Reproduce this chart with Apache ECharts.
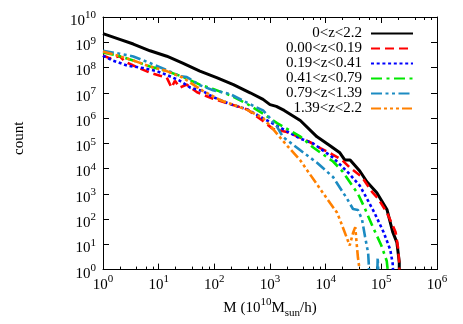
<!DOCTYPE html>
<html><head><meta charset="utf-8">
<script src="https://cdn.jsdelivr.net/npm/echarts@6/dist/echarts.min.js"></script>
<style>html,body{margin:0;padding:0;background:#fff}#c{width:463px;height:324px}</style>
</head><body><div id="c"></div>
<script>
// ---- data: [M (1e10 Msun/h), count] ----
const seriesNames = ['0<z<2.2','0.00<z<0.19','0.19<z<0.41','0.41<z<0.79','0.79<z<1.39','1.39<z<2.2'];
const zAll = [[1,2.2e9],[2,1.3e9],[3.5,8.5e8],[7,4.6e8],[14,2.8e8],[27,1.5e8],[55,7.2e7],[110,4.0e7],[220,2.1e7],[440,1.0e7],[750,5.5e6],[1000,3.4e6],[1300,2.9e6],[1800,2.0e6],[3500,8.0e5],[7000,1.8e5],[1.2e4,8.0e4],[1.8e4,4.2e4],[2.2e4,2.2e4],[2.75e4,2.2e4],[4.1e4,8.0e3],[5.5e4,3.0e3],[8.3e4,1.1e3],[1.26e5,240],[1.6e5,31],[1.9e5,12],[2.1e5,2],[2.1e5,1]];
const z000_019 = [[1,3.0e8],[1.34,2.3e8],[2,2.8e8],[2.5,1.7e8],[3.5,1.2e8],[7,6.2e7],[10.6,4.7e7],[14,4.0e7],[17,1.6e7],[19.6,3.0e7],[24,1.6e7],[32,2.1e7],[49,1.05e7],[95,5.8e6],[190,3.6e6],[390,2.2e6],[750,7.6e5],[1130,3.7e5],[2000,2.8e5],[3460,1.7e5],[5250,1.1e5],[8000,6.5e4],[1.36e4,3.5e4],[1.96e4,2.2e4],[2.7e4,1.1e4],[4.5e4,4.6e3],[6.8e4,1.2e3],[8.7e4,660],[1.26e5,180],[1.8e5,31],[2.0e5,7],[2.1e5,1.7],[2.1e5,1]];
const z019_041 = [[1,2.9e8],[1.5,1.9e8],[2.7,1.2e8],[5.2,9.5e7],[9.3,7.2e7],[14,5.1e7],[24,3.0e7],[37,1.6e7],[60,1.2e7],[95,6.8e6],[190,3.6e6],[390,2.2e6],[750,9.8e5],[1340,4.9e5],[3460,1.55e5],[5900,1.0e5],[1.36e4,2.7e4],[2.7e4,6.0e3],[4.1e4,2.1e3],[5.5e4,650],[7.5e4,180],[1.1e5,30],[1.45e5,6],[1.6e5,1.7],[1.62e5,1]];
const z041_079 = [[1,3.9e8],[1.8,3.0e8],[3.5,1.9e8],[7,1.1e8],[14,7.2e7],[27,4.3e7],[55,2.1e7],[95,1.4e7],[190,8.1e6],[390,3.6e6],[750,1.5e6],[1340,6.3e5],[3460,1.9e5],[5900,7.0e4],[1.36e4,1.9e4],[2.0e4,7.8e3],[3.1e4,1.9e3],[3.8e4,1.0e3],[5.0e4,280],[7.0e4,50],[1.0e5,9],[1.25e5,2.2],[1.3e5,1]];
const z079_139 = [[1,4.6e8],[2,3.5e8],[3.5,2.75e8],[7,1.5e8],[14,7.9e7],[24,4.5e7],[32,4.2e7],[55,2.0e7],[95,1.26e7],[190,9.0e6],[440,3.5e6],[750,2.0e6],[1000,1.0e6],[1340,4.5e5],[1700,1.8e5],[3460,5.4e4],[7000,1.7e4],[1.36e4,4.6e3],[2.4e4,660],[3.1e4,250],[3.8e4,230],[4.5e4,96],[5.1e4,20],[5.8e4,4.5],[6.0e4,1.2],[6.0e4,1],[7.0e4,'-'],[8.5e4,1],[8.6e4,3],[8.8e4,1]];
const z139_220 = [[1,4.3e8],[1.8,3.0e8],[3.5,1.9e8],[7,1.1e8],[14,7.2e7],[27,4.0e7],[62,1.2e7],[126,5.2e6],[216,3.4e6],[390,2.1e6],[750,1.0e6],[1130,3.7e5],[2000,8.3e4],[3460,2.2e4],[5200,6.0e3],[7900,1.6e3],[1.2e4,430],[1.6e4,180],[1.9e4,70],[2.4e4,18],[2.7e4,9],[3.1e4,28],[3.4e4,48],[3.6e4,11],[3.8e4,3],[4.0e4,1.3],[4.0e4,1]];
const datasets = [zAll, z000_019, z019_041, z041_079, z079_139, z139_220];
// tick values
const xTicks = [1,10,100,1e3,1e4,1e5,1e6];
const xMinorTicks = [2,4,6,8,20,40,60,80,200,400,600,800,2000,4000,6000,8000,2e4,4e4,6e4,8e4,2e5,4e5,6e5,8e5];
const yTicks = [1,10,100,1e3,1e4,1e5,1e6,1e7,1e8,1e9,1e10];

// ---- style ----
const colors = ['#000000','#ff0000','#0000ff','#00e800','#1c8bc2','#ff8000'];
const widths = [3,2.6,2.6,2.6,2.6,2.6];
const dashes = ['solid',[9,5],[3,2.7],[11,4.5,3,4.5],[11,3.5,3,3.5,3,3.5],[10,3,3,3,3,3,3,3]];
const font = 'Liberation Serif';
const expLabel = v => '{b|10}{s|' + Math.round(Math.log10(v)) + '}';
const rich = {
  b:{fontFamily:font,fontSize:15,lineHeight:22,color:'#000'},
  s:{fontFamily:font,fontSize:11,lineHeight:11,verticalAlign:'top',color:'#000'}
};
const tickLine = {color:'#000',width:1};
function xAx(pos, major, labels){
  return {type:'log',logBase:10,min:1,max:1e6,position:pos,
    axisLine:{show:major,onZero:false,lineStyle:{color:'#000',width:1}},
    axisTick:{show:true,inside:true,length:major?6:3,customValues:major?xTicks:xMinorTicks,lineStyle:tickLine},
    axisLabel:labels?{show:true,customValues:xTicks,formatter:expLabel,rich:rich,margin:4}:{show:false},
    splitLine:{show:false},minorTick:{show:false},minorSplitLine:{show:false}};
}
function yAx(pos, labels){
  return {type:'log',logBase:10,min:1,max:1e10,position:pos,
    axisLine:{show:true,onZero:false,lineStyle:{color:'#000',width:1}},
    axisTick:{show:true,inside:true,length:6,customValues:yTicks,lineStyle:tickLine},
    axisLabel:labels?{show:true,customValues:yTicks,formatter:expLabel,rich:rich,margin:7,padding:[8,0,0,0]}:{show:false},
    splitLine:{show:false},minorTick:{show:false}};
}
const xs = [xAx('bottom',true,true), xAx('bottom',false,false), xAx('top',true,false), xAx('top',false,false)];
Object.assign(xs[0], {name:'{a|M (10}{p|10}{a|M}{d|sun}{a|/h)}', nameLocation:'middle', nameGap:20,
  nameTextStyle:{rich:{
    a:{fontFamily:font,fontSize:15,lineHeight:22,color:'#000'},
    p:{fontFamily:font,fontSize:11,lineHeight:11,verticalAlign:'top',color:'#000'},
    d:{fontFamily:font,fontSize:11,lineHeight:11,verticalAlign:'bottom',color:'#000'}}}});
const ys = [yAx('left',true), yAx('right',false)];
Object.assign(ys[0], {name:'count', nameLocation:'middle', nameRotate:90, nameGap:76,
  nameTextStyle:{fontFamily:font,fontSize:15,color:'#000',padding:[0,0,0,10]}});

const chart = echarts.init(document.getElementById('c'), null, {renderer:'canvas'});
chart.setOption({
  animation:false,
  backgroundColor:'#fff',
  grid:{left:103,right:26,top:17,bottom:45,containLabel:false},
  xAxis:xs,
  yAxis:ys,
  legend:{data:seriesNames,orient:'vertical',right:44,top:21,align:'right',
    itemWidth:42,itemHeight:10,itemGap:0,itemStyle:{opacity:0},
    textStyle:{fontFamily:font,fontSize:15,lineHeight:15,color:'#000',padding:[0,4,0,0]}},
  series:seriesNames.map((n,i)=>({
    name:n,type:'line',data:datasets[i],xAxisIndex:0,yAxisIndex:0,
    showSymbol:false,symbol:'none',connectNulls:false,clip:true,
    lineStyle:{color:colors[i],width:widths[i],type:dashes[i]},
    itemStyle:{color:colors[i],opacity:0},
    emphasis:{disabled:true}
  }))
});
</script></body></html>
